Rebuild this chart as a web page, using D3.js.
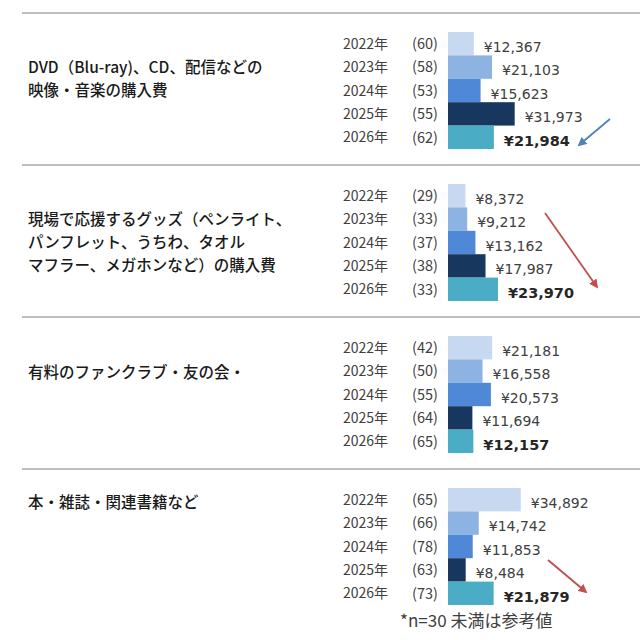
<!DOCTYPE html>
<html>
<head>
<meta charset="utf-8">
<script src="https://d3js.org/d3.v7.min.js"></script>
<style>
  body { margin: 0; background: #fff; }
  svg { display: block; }
</style>
</head>
<body>
<script>
// data
const categories = [
  ["DVD（Blu-ray)、CD、配信などの", "映像・音楽の購入費"],
  ["現場で応援するグッズ（ペンライト、", "パンフレット、うちわ、タオル", "マフラー、メガホンなど）の購入費"],
  ["有料のファンクラブ・友の会・"],
  ["本・雑誌・関連書籍など"]
];
const years = ["2022年", "2023年", "2024年", "2025年", "2026年"];
const sampleSizes = [
  [60, 58, 53, 55, 62],
  [29, 33, 37, 38, 33],
  [42, 50, 55, 64, 65],
  [65, 66, 78, 63, 73]
];
const amounts = [
  [12367, 21103, 15623, 31973, 21984],
  [8372, 9212, 13162, 17987, 23970],
  [21181, 16558, 20573, 11694, 12157],
  [34892, 14742, 11853, 8484, 21879]
];
const trend = ["blue", "red", null, "red"];
const yearColors = ["#c6d9f1", "#8db3e2", "#4f88d6", "#17375e", "#4bacc6"];

const w = 640, h = 640;
const groupH = 152;
const labelTop = [54, 54, 55, 33];   // first text line in each block
const arrows = {                     // trend arrow of each block
  0: [610, 106, 579, 132],
  1: [545, 48, 597, 122],
  3: [548, 91, 586, 123]
};

const svg = d3.select("body").append("svg")
  .attr("width", w).attr("height", h);

const defs = svg.append("defs");
[["blue", "#4f81bd"], ["red", "#c0504d"]].forEach(([k, c]) => {
  defs.append("marker")
    .attr("id", "arrow-" + k)
    .attr("viewBox", "0 0 10 10")
    .attr("refX", 8).attr("refY", 5)
    .attr("markerWidth", 5).attr("markerHeight", 5)
    .attr("orient", "auto")
    .append("path")
    .attr("d", "M0,0 L10,5 L0,10 z")
    .attr("fill", c);
});
const arrowColor = { blue: "#4f81bd", red: "#c0504d" };

const x = d3.scaleLinear().domain([0, 35000]).range([448, 521]);
const y = d3.scaleBand().domain(years).range([19, 136]).padding(0);

const fmt = d3.format(",");

categories.forEach((lines, gi) => {
  const g = svg.append("g")
    .attr("transform", "translate(0," + (13 + gi * groupH) + ")");

  // separator line
  g.append("line")
    .attr("x1", 22).attr("x2", w)
    .attr("y1", 0).attr("y2", 0)
    .attr("stroke", "#bfbfbf").attr("stroke-width", 2);

  // category label
  g.selectAll(".cat")
    .data(lines)
    .enter()
    .append("text")
    .attr("x", 28)
    .attr("y", (d, i) => labelTop[gi] + i * 23)
    .attr("dy", "0.36em")
    .attr("font-family", "'Noto Sans CJK JP', sans-serif")
    .attr("font-size", 15.5)
    .attr("font-weight", 500)
    .attr("fill", "#1a1a1a")
    .text(d => d);

  const rows = years.map((yr, i) => ({
    year: yr, n: sampleSizes[gi][i], v: amounts[gi][i], i: i
  }));

  g.selectAll("rect")
    .data(rows)
    .enter()
    .append("rect")
    .attr("x", x(0))
    .attr("y", d => y(d.year))
    .attr("width", d => x(d.v) - x(0))
    .attr("height", y.bandwidth())
    .attr("fill", d => yearColors[d.i]);

  g.selectAll(".yr")
    .data(rows)
    .enter()
    .append("text")
    .attr("x", 343)
    .attr("y", d => y(d.year) + y.bandwidth() / 2)
    .attr("dy", "0.36em")
    .attr("font-family", "'Noto Sans CJK JP', sans-serif")
    .attr("font-size", 14)
    .attr("fill", "#404040")
    .text(d => d.year);

  g.selectAll(".n")
    .data(rows)
    .enter()
    .append("text")
    .attr("x", 412)
    .attr("y", d => y(d.year) + y.bandwidth() / 2)
    .attr("dy", "0.36em")
    .attr("font-family", "'Noto Sans CJK JP', sans-serif")
    .attr("font-size", 14.5)
    .attr("fill", "#404040")
    .text(d => "(" + d.n + ")");

  g.selectAll(".val")
    .data(rows)
    .enter()
    .append("text")
    .attr("x", d => x(d.v) + 10)
    .attr("y", d => y(d.year) + y.bandwidth() / 2 + 3)
    .attr("dy", "0.36em")
    .attr("font-family", "'DejaVu Sans', Verdana, sans-serif")
    .attr("font-size", d => d.i === 4 ? 14.5 : 14)
    .attr("font-weight", d => d.i === 4 ? "bold" : "normal")
    .attr("fill", d => d.i === 4 ? "#262626" : "#404040")
    .text(d => "¥" + fmt(d.v));

  if (trend[gi]) {
    const a = arrows[gi];
    g.append("line")
      .attr("x1", a[0]).attr("y1", a[1])
      .attr("x2", a[2]).attr("y2", a[3])
      .attr("stroke", arrowColor[trend[gi]])
      .attr("stroke-width", 1.8)
      .attr("marker-end", "url(#arrow-" + trend[gi] + ")");
  }
});

svg.append("text")
  .attr("x", 400)
  .attr("y", 621)
  .attr("dy", "0.36em")
  .attr("font-family", "'Noto Sans CJK JP', sans-serif")
  .attr("font-size", 17)
  .attr("fill", "#404040")
  .text("*n=30 未満は参考値");
</script>
</body>
</html>
